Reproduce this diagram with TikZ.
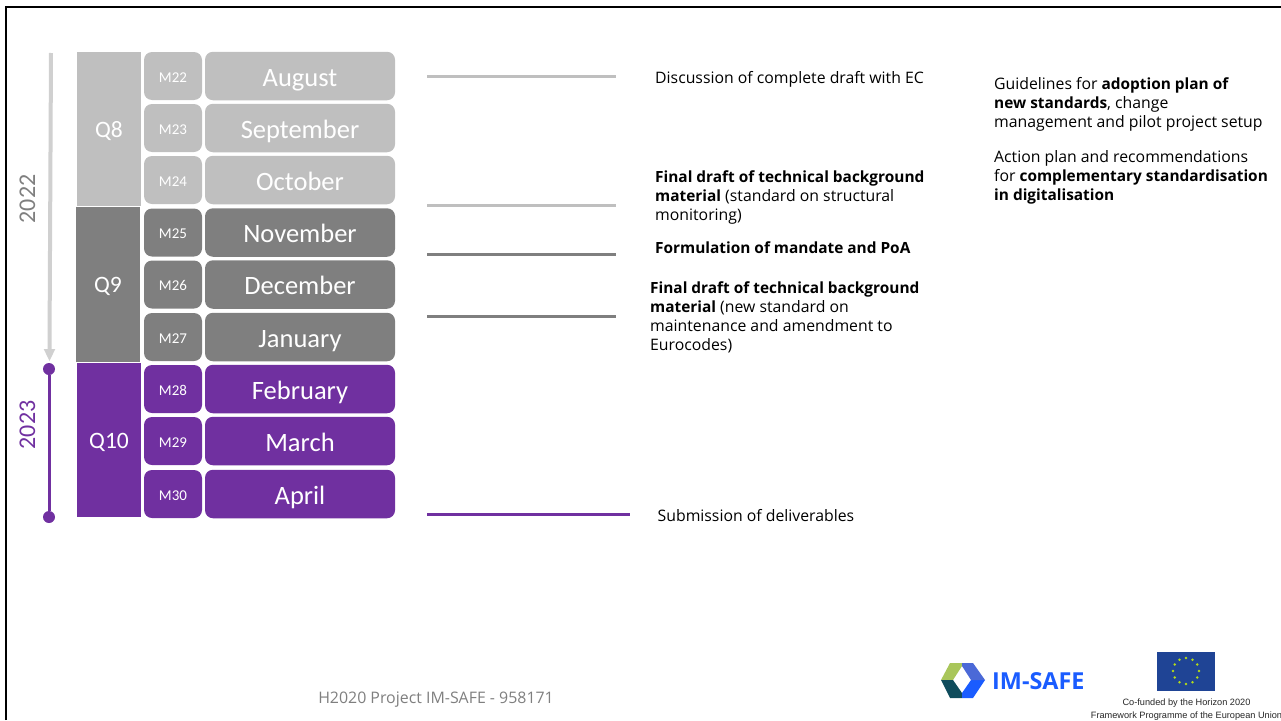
\documentclass[tikz,border=0pt]{standalone}
\usepackage{fontspec}
\setmainfont[BoldFeatures={Scale=0.975}]{Open Sans}
\newfontfamily\calibri{Carlito}
\newfontfamily\arialfont{Liberation Sans}
\usepackage{tikz}
\usetikzlibrary{positioning}
\definecolor{lightbar}{HTML}{BFBFBF}
\definecolor{darkbar}{HTML}{7F7F7F}
\definecolor{purplebar}{HTML}{7030A0}
\definecolor{arrowgray}{HTML}{D0D0D0}
\definecolor{logoblue}{HTML}{1A5CFF}
\definecolor{flagblue}{HTML}{1F4495}
\tikzstyle{quarter}=[minimum width=64pt, inner sep=0pt, text=white, text height=16pt, text depth=0pt, font=\calibri\fontsize{23.5}{23.5}\selectfont]
\tikzstyle{monthno}=[rounded corners=8pt, minimum width=58pt, minimum height=48pt, inner sep=0pt, text=white, text height=12pt, text depth=0pt, font=\calibri\fontsize{15}{15}\selectfont]
\tikzstyle{monthname}=[rounded corners=8pt, minimum width=190pt, minimum height=48.5pt, inner sep=0pt, text=white, text height=20pt, text depth=0pt, font=\calibri\fontsize{26.5}{26.5}\selectfont]
\tikzstyle{year}=[rotate=90, inner sep=0pt, font=\calibri\fontsize{24}{24}\selectfont]
\tikzstyle{note}=[anchor=north west, align=left, inner sep=0pt, font=\fontsize{15.8}{19}\selectfont]
\tikzstyle{tick}=[line width=3pt]
\begin{document}
\begin{tikzpicture}[x=1pt, y=-1pt]
      \useasboundingbox (0,0) rectangle (1281,720);

      % frame
      \coordinate (frame1) at (6,720);
      \coordinate (frame2) at (6,7);
      \coordinate (frame3) at (1281,7);
      \draw[line width=2pt] (frame1) -- (frame2) -- (frame3);

      % quarters
      \node[quarter, fill=lightbar, minimum height=154pt] (q8) at (109,129) {Q8};
      \node[quarter, fill=darkbar, minimum height=155pt] (q9) at (108,284.5) {Q9};
      \node[quarter, fill=purplebar, minimum height=154pt] (q10) at (109,440) {Q10};

      % months
      \foreach \n/\name/\yy/\col in {22/August/76/lightbar, 23/September/128/lightbar, 24/October/180/lightbar,
        25/November/232.5/darkbar, 26/December/284.5/darkbar, 27/January/337/darkbar,
        28/February/389/purplebar, 29/March/441/purplebar, 30/April/494/purplebar}{
        \node[monthno, fill=\col] (m\n) at (173,\yy) {M\n};
        \node[monthname, fill=\col] (month\n) at (300,\yy) {\name};
      }

      % years
      \node[year, text=darkbar] (y2022) at (27.5,199) {2022};
      \node[year, text=purplebar] (y2023) at (27.5,425) {2023};
      \coordinate (arrow1) at (51,53);
      \coordinate (arrow2) at (49.5,350);
      \draw[arrowgray, line width=4pt] (arrow1) -- (arrow2);
      \fill[arrowgray] (43.7,349) -- (55.3,349) -- (49.5,361) -- cycle;
      \node[circle, fill=purplebar, minimum size=12pt, inner sep=0pt] (start2023) at (49,369) {};
      \node[circle, fill=purplebar, minimum size=12pt, inner sep=0pt] (end2023) at (49,517) {};
      \draw[purplebar, line width=3pt] (start2023) -- (end2023);

      % ticks
      \foreach \i/\xa/\xb/\yy/\col in {1/427/616/76/lightbar, 2/427/616/205/lightbar, 3/427/616/254/darkbar,
        4/427/616/316/darkbar, 5/427/630/514/purplebar}{
        \coordinate (tick\i a) at (\xa,\yy);
        \coordinate (tick\i b) at (\xb,\yy);
        \draw[tick, \col] (tick\i a) -- (tick\i b);
      }

      % notes
      \node[note] (note1) at (655,71.5) {Discussion of complete draft with EC};
      \node[note] (note2) at (655,170.5) {\textbf{Final draft of technical background}\\\textbf{material} (standard on structural\\monitoring)};
      \node[note] (note3) at (655,241.5) {\textbf{Formulation of mandate and PoA}};
      \node[note] (note4) at (650,281.5) {\textbf{Final draft of technical background}\\\textbf{material} (new standard on\\maintenance and amendment to\\Eurocodes)};
      \node[note] (note5) at (657.5,509.5) {Submission of deliverables};
      \node[note] (note6) at (994,77.5) {Guidelines for \textbf{adoption plan of}\\\textbf{new standards}, change\\management and pilot project setup};
      \node[note] (note7) at (994,150.5) {Action plan and recommendations\\for \textbf{complementary standardisation}\\\textbf{in digitalisation}};

      % footer
      \node[text=darkbar, inner sep=0pt, font=\fontsize{15.9}{15.9}\selectfont] (footer) at (436,700) {H2020 Project IM-SAFE - 958171};

      % logo
      \fill[fill={rgb,255:red,169;green,198;blue,90}] (941,680) -- (950,663) -- (962,663) -- (962,666) -- (953,680) -- cycle;
      \fill[fill={rgb,255:red,15;green,76;blue,92}] (941,680) -- (953,680) -- (962,693) -- (962,698) -- (950,698) -- cycle;
      \fill[logoblue] (962,693) -- (971,680) -- (985,680) -- (973,698) -- (962,698) -- cycle;
      \fill[fill={rgb,255:red,75;green,105;blue,215}] (962,663) -- (973,663) -- (985,680) -- (971,680) -- (962,666) -- cycle;
      \node[anchor=west, inner sep=0pt, text=logoblue, font=\bfseries\fontsize{24}{24}\selectfont] (imsafe) at (992,681) {IM-SAFE};

      % flag
      \node[fill=flagblue, minimum width=58pt, minimum height=39pt, inner sep=0pt] (flag) at (1186,671) {};
      \foreach \a in {0,30,...,330}{
        \fill[yellow!70!green] (flag.center) ++(\a:13pt) circle (1.4pt);
      }
      \node[align=center, inner sep=0pt, text=black!85, font=\arialfont\fontsize{9.2}{13}\selectfont] (cofund) at (1186.5,709.5) {Co-funded by the Horizon 2020\\Framework Programme of the European Union};

    \end{tikzpicture}
\end{document}
